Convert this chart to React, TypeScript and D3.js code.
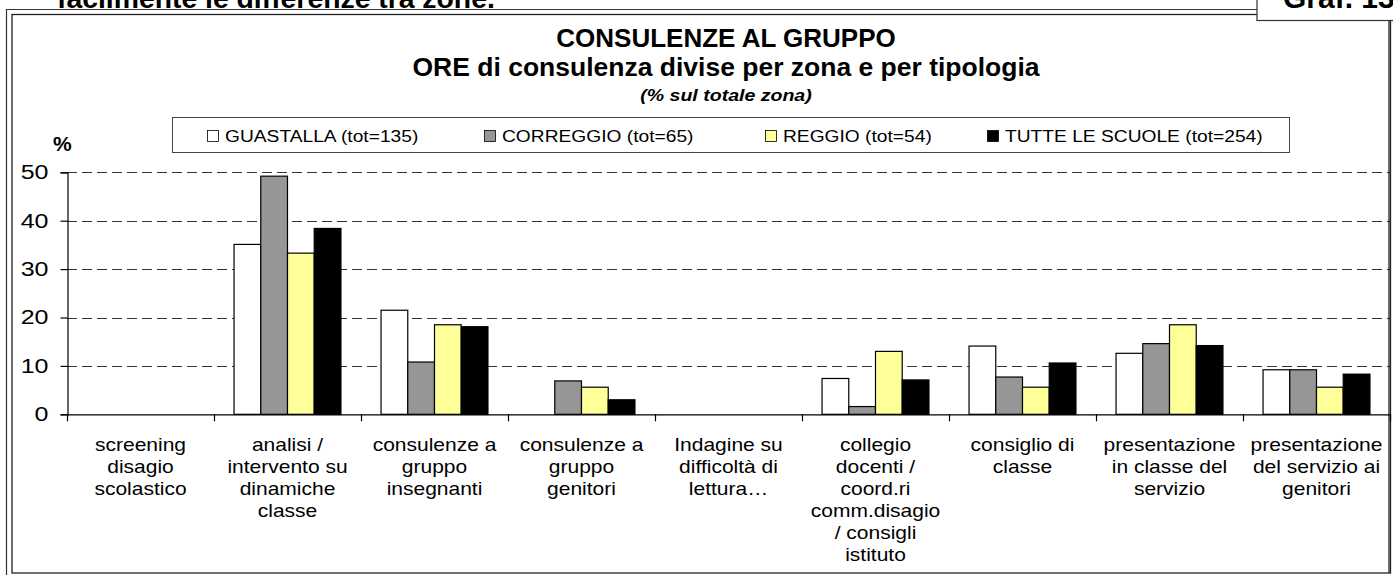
import * as d3 from "d3";
import { useEffect, useRef } from "react";

const categories = [
  ["screening", "disagio", "scolastico"],
  ["analisi /", "intervento su", "dinamiche", "classe"],
  ["consulenze a", "gruppo", "insegnanti"],
  ["consulenze a", "gruppo", "genitori"],
  ["Indagine su", "difficoltà di", "lettura…"],
  ["collegio", "docenti /", "coord.ri", "comm.disagio", "/ consigli", "istituto"],
  ["consiglio di", "classe"],
  ["presentazione", "in classe del", "servizio"],
  ["presentazione", "del servizio ai", "genitori"],
];

const seriesNames = [
  "GUASTALLA (tot=135)",
  "CORREGGIO (tot=65)",
  "REGGIO (tot=54)",
  "TUTTE LE SCUOLE (tot=254)",
];
const seriesColors = ["#ffffff", "#969696", "#ffff99", "#000000"];

const guastalla = [0, 35.1, 21.5, 0, 0, 7.4, 14.1, 12.6, 9.2];
const correggio = [0, 49.2, 10.8, 6.9, 0, 1.6, 7.7, 14.6, 9.2];
const reggio = [0, 33.3, 18.5, 5.6, 0, 13.0, 5.6, 18.5, 5.6];
const tutte = [0, 38.4, 18.1, 3.0, 0, 7.1, 10.6, 14.2, 8.3];

const yTicks = [0, 10, 20, 30, 40, 50];

const W = 1393;
const H = 576;
const FONT = "'Liberation Sans', Arial, sans-serif";

const App = () => {
  const ref = useRef(null);

  useEffect(() => {
    const svg = d3.select(ref.current);
    svg.selectAll("*").remove();

    const left = 67;
    const right = 1390;
    const top = 172.3;
    const bottom = 414.3;
    const values = [guastalla, correggio, reggio, tutte];

    // text helper, the source picture has slightly widened glyphs
    const stext = (x, y, txt, size, opts = {}) =>
      svg.append("text")
        .attr("transform", `translate(${x},${y}) scale(${opts.sx || 1},1)`)
        .attr("font-family", FONT)
        .attr("font-size", size)
        .attr("font-weight", opts.bold ? "bold" : "normal")
        .attr("font-style", opts.italic ? "italic" : "normal")
        .attr("text-anchor", opts.anchor || "start")
        .text(txt);

    // page text and frame
    stext(57, 7.5, "facilmente le differenze tra zone.", 27, { bold: true, sx: 1.05 });
    svg.append("line").attr("x1", 6).attr("x2", 1257).attr("y1", 9.5).attr("y2", 9.5)
      .attr("stroke", "#333").attr("stroke-width", 1.2);
    svg.append("line").attr("x1", 6.5).attr("x2", 6.5).attr("y1", 9).attr("y2", 575)
      .attr("stroke", "#333").attr("stroke-width", 1.2);

    // chart area border
    svg.append("rect").attr("x", 12).attr("y", 14.5).attr("width", right - 12 + 0.5).attr("height", 573 - 14.5)
      .attr("fill", "none").attr("stroke", "#222").attr("stroke-width", 1.3);

    // Graf. box
    svg.append("rect").attr("x", 1257).attr("y", -5).attr("width", 150).attr("height", 25.5)
      .attr("fill", "#fff").attr("stroke", "#333").attr("stroke-width", 1.2);
    stext(1283, 7.5, "Graf. 13", 30, { bold: true });
    svg.append("line").attr("x1", right - 1).attr("x2", right - 1).attr("y1", 20).attr("y2", 573)
      .attr("stroke", "#222").attr("stroke-width", 1.3);

    // titles
    const cx = 726;
    stext(cx, 47, "CONSULENZE AL GRUPPO", 26, { bold: true, anchor: "middle" });
    stext(cx, 76, "ORE di consulenza divise per zona e per tipologia", 25, { bold: true, anchor: "middle", sx: 1.06 });
    stext(cx, 101, "(% sul totale zona)", 17, { bold: true, italic: true, anchor: "middle", sx: 1.15 });

    // legend
    svg.append("rect").attr("x", 172.5).attr("y", 117.5).attr("width", 1117).attr("height", 35)
      .attr("fill", "#fff").attr("stroke", "#444");
    const legendX = [207, 484, 765, 987];
    seriesNames.forEach((name, i) => {
      svg.append("rect").attr("x", legendX[i] + 0.5).attr("y", 130.5).attr("width", 11).attr("height", 11)
        .attr("fill", seriesColors[i]).attr("stroke", "#000").attr("stroke-width", 0.8);
      stext(legendX[i] + 18, 142, name, 17, { sx: 1.13 });
    });

    stext(53, 151, "%", 21, { bold: true });

    // scales
    const y = d3.scaleLinear().domain([0, 50]).range([bottom, top]);
    const x0 = d3.scaleBand().domain(d3.range(categories.length)).range([left, right]);
    // Excel-like gap width 150%: group = 4 bars, gap = 1.5 bars
    const step = x0.step();
    const barW = step / 5.5;
    const x1 = d3.scaleBand().domain(d3.range(4)).range([0, barW * 4]);

    // gridlines
    svg.append("g").selectAll("line")
      .data(yTicks.filter((t) => t > 0))
      .join("line")
      .attr("x1", left).attr("x2", right)
      .attr("y1", (d) => Math.round(y(d)) + 0.5).attr("y2", (d) => Math.round(y(d)) + 0.5)
      .attr("stroke", "#333").attr("stroke-width", 1.2)
      .attr("stroke-dasharray", "10,5");

    // y axis
    const ySx = 1.25;
    const yAxis = svg.append("g").attr("transform", `translate(${left + 0.5},0)`)
      .call(d3.axisLeft(y).tickValues(yTicks).tickSize(7).tickPadding(0));
    yAxis.select(".domain").attr("stroke", "#000").attr("stroke-width", 1.2);
    yAxis.selectAll(".tick line").attr("stroke", "#000").attr("stroke-width", 1.2);
    yAxis.selectAll(".tick text")
      .attr("font-family", FONT).attr("font-size", 20).attr("fill", "#000")
      .attr("x", -19 / ySx)
      .attr("transform", `scale(${ySx},1)`);

    // bars
    const groups = svg.append("g").selectAll("g")
      .data(d3.range(categories.length))
      .join("g")
      .attr("transform", (i) => `translate(${x0(i) + barW * 0.75},0)`);
    groups.selectAll("rect")
      .data((i) => values.map((s, k) => ({ k, v: s[i] })).filter((d) => d.v > 0))
      .join("rect")
      .attr("x", (d) => x1(d.k))
      .attr("y", (d) => y(d.v))
      .attr("width", x1.bandwidth())
      .attr("height", (d) => bottom - y(d.v))
      .attr("fill", (d) => seriesColors[d.k])
      .attr("stroke", "#000")
      .attr("stroke-width", 1.2);

    // x axis
    svg.append("line").attr("x1", left).attr("x2", right).attr("y1", bottom + 0.5).attr("y2", bottom + 0.5)
      .attr("stroke", "#000").attr("stroke-width", 1.3);
    svg.append("g").selectAll("line")
      .data(d3.range(categories.length + 1))
      .join("line")
      .attr("x1", (i) => left + i * step + 0.5).attr("x2", (i) => left + i * step + 0.5)
      .attr("y1", bottom).attr("y2", bottom + 7)
      .attr("stroke", "#000").attr("stroke-width", 1.2);

    // category labels
    const labels = svg.append("g").selectAll("text")
      .data(categories)
      .join("text")
      .attr("font-family", FONT).attr("font-size", 17.5)
      .attr("text-anchor", "middle")
      .attr("transform", (_, i) => `translate(${x0(i) + step / 2},451) scale(1.2,1)`);
    labels.selectAll("tspan")
      .data((d) => d)
      .join("tspan")
      .attr("x", 0)
      .attr("dy", (_, j) => (j === 0 ? 0 : 22))
      .text((d) => d);
  }, []);

  return (
    <svg
      ref={ref}
      width={W}
      height={H}
      style={{ position: "absolute", left: 0, top: 0, background: "#fff" }}
    />
  );
};

export default App;
